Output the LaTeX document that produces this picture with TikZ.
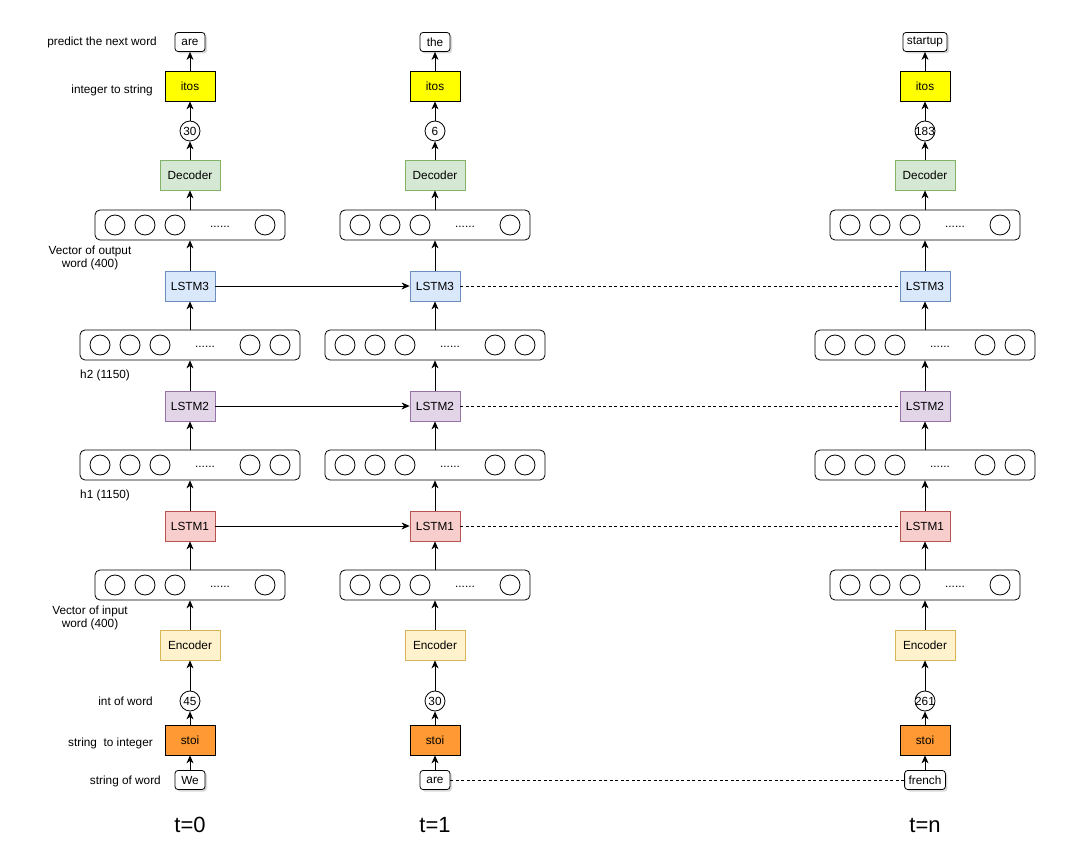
\documentclass[tikz,border=0pt]{standalone}
\usepackage{fontspec}
\setmainfont{Liberation Sans}
\usetikzlibrary{arrows.meta,shadows}

\definecolor{decfill}{HTML}{D5E8D4}
\definecolor{decdraw}{HTML}{82B366}
\definecolor{encfill}{HTML}{FFF2CC}
\definecolor{encdraw}{HTML}{D6B656}
\definecolor{onefill}{HTML}{F8CECC}
\definecolor{onedraw}{HTML}{B85450}
\definecolor{twofill}{HTML}{E1D5E7}
\definecolor{twodraw}{HTML}{9673A6}
\definecolor{threefill}{HTML}{DAE8FC}
\definecolor{threedraw}{HTML}{6C8EBF}
\definecolor{stoifill}{HTML}{FF9933}
\definecolor{itosfill}{HTML}{FFFF00}

\begin{document}
\begin{tikzpicture}[x=1pt,y=-1pt,
	font=\fontsize{11.8}{13.5}\selectfont,
	box/.style={shape=rectangle,line width=0.8pt,minimum width=50pt,minimum height=30pt,inner sep=0pt},
	wordbox/.style={shape=rectangle,draw=black,fill=white,rounded corners=3pt,line width=0.8pt,
		minimum width=30pt,minimum height=19pt,inner xsep=4pt,inner ysep=0pt,
		drop shadow={opacity=0.3,shadow xshift=2pt,shadow yshift=-2pt}},
	numnode/.style={shape=circle,draw=black,line width=0.8pt,minimum size=20pt,inner sep=-3pt},
	vecbox/.style={shape=rectangle,draw=black,rounded corners=5pt,line width=0.8pt,minimum height=30pt,inner sep=0pt},
	arr/.style={line width=0.8pt,-{Stealth[length=8pt,width=7pt,inset=2.5pt]}},
	skip/.style={line width=0.6pt,dash pattern=on 3pt off 2.5pt},
	rowlabel/.style={inner sep=0pt},
	tlabel/.style={font=\fontsize{22}{24}\selectfont}]
	\useasboundingbox (0,0) rectangle (1066,866);
	% one column per time step
	\foreach \c/\x/\wo/\no/\ni/\wi in {0/190/are/30/45/We, 1/435/the/6/30/are, n/925/startup/183/261/french} {
		\node[wordbox] (wout\c) at (\x,42) {\wo};
		\node[box,draw=black,fill=itosfill] (itos\c) at (\x,86) {itos};
		\node[numnode] (nout\c) at (\x,131) {\no};
		\node[box,draw=decdraw,fill=decfill,minimum width=60pt] (dec\c) at (\x,175) {Decoder};
		\node[vecbox,minimum width=190pt] (vout\c) at (\x,225) {};
		\node[box,draw=threedraw,fill=threefill] (lstm3\c) at (\x,286) {LSTM3};
		\node[vecbox,minimum width=220pt] (h2\c) at (\x,345) {};
		\node[box,draw=twodraw,fill=twofill] (lstm2\c) at (\x,406) {LSTM2};
		\node[vecbox,minimum width=220pt] (h1\c) at (\x,465) {};
		\node[box,draw=onedraw,fill=onefill] (lstm1\c) at (\x,526) {LSTM1};
		\node[vecbox,minimum width=190pt] (vin\c) at (\x,585) {};
		\node[box,draw=encdraw,fill=encfill,minimum width=60pt] (enc\c) at (\x,645) {Encoder};
		\node[numnode] (nin\c) at (\x,701) {\ni};
		\node[box,draw=black,fill=stoifill] (stoi\c) at (\x,740) {stoi};
		\node[wordbox] (win\c) at (\x,780) {\wi};
		\node[tlabel] (t\c) at (\x,825) {t=\c};
		\foreach \a/\b in {win/stoi,stoi/nin,nin/enc,enc/vin,vin/lstm1,lstm1/h1,h1/lstm2,lstm2/h2,
			h2/lstm3,lstm3/vout,vout/dec,dec/nout,nout/itos,itos/wout}
			\path[arr] (\a\c) edge (\b\c);
		% units inside the vectors
		\foreach \v in {vin,vout} {
			\foreach \dx in {-75,-45,-15,75}
				\draw[line width=0.8pt] ([xshift=\dx pt]\v\c.center) circle[radius=10pt];
			\node (dots\v\c) at ([xshift=30pt]\v\c.center) {\strut......};
		}
		\foreach \v in {h1,h2} {
			\foreach \dx in {-90,-60,-30,60,90}
				\draw[line width=0.8pt] ([xshift=\dx pt]\v\c.center) circle[radius=10pt];
			\node (dots\v\c) at ([xshift=15pt]\v\c.center) {\strut......};
		}
	}
	\path[arr] (lstm10) edge (lstm11);
	\path[arr] (lstm20) edge (lstm21);
	\path[arr] (lstm30) edge (lstm31);
	\path[skip] (lstm11) edge (lstm1n);
	\path[skip] (lstm21) edge (lstm2n);
	\path[skip] (lstm31) edge (lstm3n);
	\path[skip] (win1) edge (winn);
	% row labels
	\node[rowlabel,anchor=east] (lblpredict) at (157,42) {predict the next word};
	\node[rowlabel,anchor=east] (lblitos) at (153,90) {integer to string};
	\node[rowlabel,align=center] (lblvout) at (90,258) {Vector of output\\word (400)};
	\node[rowlabel,anchor=west] (lblh2) at (80,375) {h2 (1150)};
	\node[rowlabel,anchor=west] (lblh1) at (80,495) {h1 (1150)};
	\node[rowlabel,align=center] (lblvin) at (90,618) {Vector of input\\word (400)};
	\node[rowlabel,anchor=east] (lblint) at (153,701) {int of word};
	\node[rowlabel,anchor=east] (lblstoi) at (153,743) {string\ \ to integer};
	\node[rowlabel,anchor=east] (lblstr) at (161,781) {string of word};
\end{tikzpicture}
\end{document}
